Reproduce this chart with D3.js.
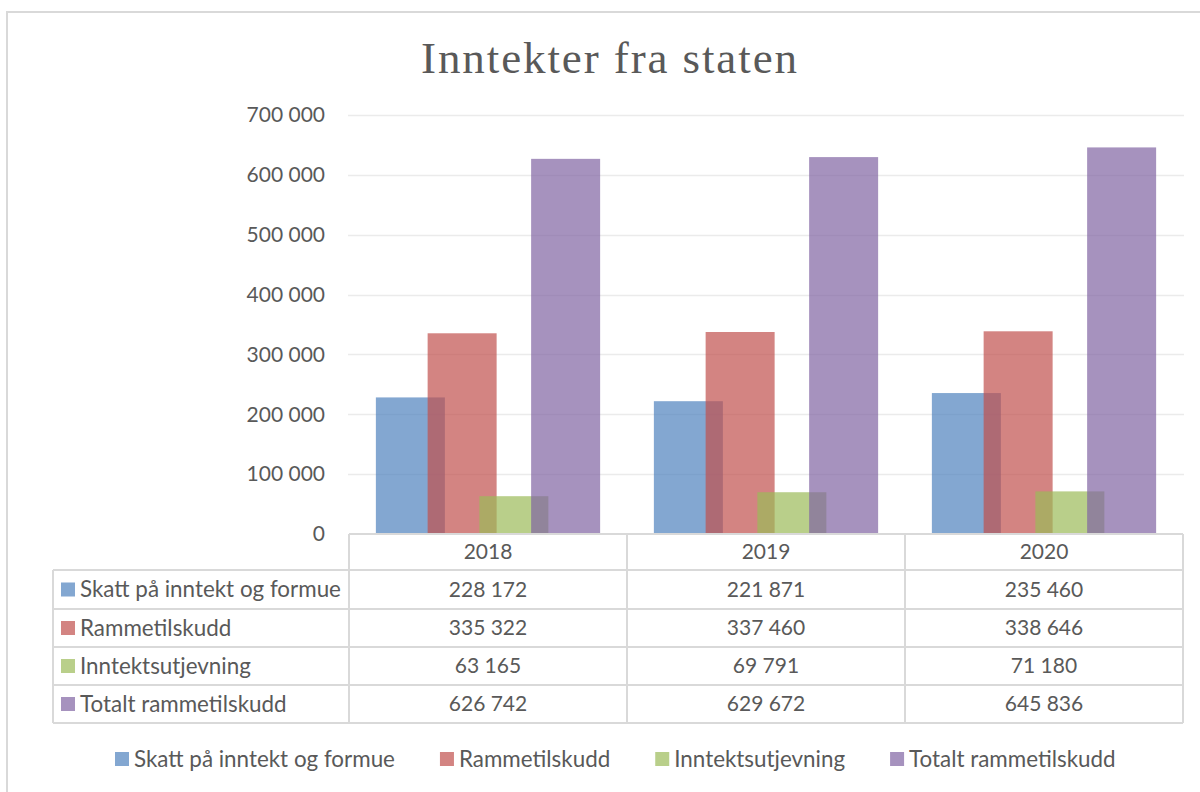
<!DOCTYPE html>
<html>
<head>
<meta charset="utf-8">
<script src="https://cdn.jsdelivr.net/npm/d3@7"></script>
<style>
  html, body { margin: 0; padding: 0; background: #fff; }
  svg { display: block; }
  text { font-family: Lato, "Open Sans", sans-serif; fill: #595959; }
</style>
</head>
<body>
<svg id="chart" width="1200" height="792"></svg>
<script>
const title = "Inntekter fra staten";
const years = ["2018", "2019", "2020"];
const seriesNames = ["Skatt på inntekt og formue", "Rammetilskudd", "Inntektsutjevning", "Totalt rammetilskudd"];
const skatt = [228172, 221871, 235460];
const ramme = [335322, 337460, 338646];
const utjevning = [63165, 69791, 71180];
const totalt = [626742, 629672, 645836];
const yTicks = [0, 100000, 200000, 300000, 400000, 500000, 600000, 700000];
const colors = ["#4F81BD", "#C0504D", "#9BBB59", "#8064A2"];

const seriesValues = [skatt, ramme, utjevning, totalt];
const fmt = v => d3.format(",")(v).replace(/,/g, " ");

const svg = d3.select("#chart");
const plotL = 349, plotR = 1183, plotT = 115, plotB = 534;
const numSize = 21;
const labelSize = 22.4;

// outer border
svg.append("rect").attr("x", 7).attr("y", 12).attr("width", 1220).attr("height", 800)
  .attr("fill", "#fff").attr("stroke", "#d9d9d9").attr("stroke-width", 2);

// title
svg.append("text").attr("x", 610).attr("y", 73).attr("text-anchor", "middle")
  .style("font-family", "'Liberation Serif', 'DejaVu Serif', serif")
  .style("font-size", "45px").style("letter-spacing", "1.9px").text(title);

const x = d3.scaleBand().domain(years).range([plotL, plotR]).paddingInner(0).paddingOuter(0);
const y = d3.scaleLinear().domain([0, 700000]).range([plotB, plotT]);

// gridlines
svg.append("g").selectAll("line").data(yTicks.slice(1)).join("line")
  .attr("x1", plotL - 1).attr("x2", plotR + 1)
  .attr("y1", d => Math.round(y(d)) + 0.5).attr("y2", d => Math.round(y(d)) + 0.5)
  .attr("stroke", "#ebebeb").attr("stroke-width", 1.5);

// y axis labels
const yAxis = d3.axisLeft(y).tickValues(yTicks).tickFormat(fmt).tickSize(0).tickPadding(24);
const gy = svg.append("g").attr("transform", `translate(${plotL},0)`).call(yAxis);
gy.select(".domain").remove();
gy.selectAll("text").style("font-size", numSize + "px").attr("fill", "#595959")
  .style("font-family", "Lato, 'Open Sans', sans-serif");

// bars: bar width, overlap 25%, gap width
const band = x.bandwidth();
const barW = 69;
const step = barW * 0.75;
const groupW = step * 3 + barW;
const off = (band - groupW) / 2;

seriesValues.forEach((vals, si) => {
  svg.append("g").selectAll("rect").data(years).join("rect")
    .attr("x", (d) => x(d) + off + si * step)
    .attr("width", barW)
    .attr("y", (d, i) => y(vals[i]))
    .attr("height", (d, i) => y(0) - y(vals[i]))
    .attr("fill", colors[si]).attr("fill-opacity", 0.7);
});

// data table
const tableLeft = 53;
const rowTop = [534, 570, 609, 647, 685, 723];
const gridColor = "#d9d9d9";
const tg = svg.append("g");
tg.append("line").attr("x1", plotL).attr("x2", plotR).attr("y1", rowTop[0]).attr("y2", rowTop[0]).attr("stroke", gridColor).attr("stroke-width", 2);
for (let r = 1; r < rowTop.length; r++) {
  tg.append("line").attr("x1", tableLeft).attr("x2", plotR).attr("y1", rowTop[r]).attr("y2", rowTop[r]).attr("stroke", gridColor).attr("stroke-width", 2);
}
tg.append("line").attr("x1", tableLeft).attr("x2", tableLeft).attr("y1", rowTop[1]).attr("y2", rowTop[5]).attr("stroke", gridColor).attr("stroke-width", 2);
years.forEach(yr => {
  tg.append("line").attr("x1", x(yr)).attr("x2", x(yr)).attr("y1", rowTop[0]).attr("y2", rowTop[5]).attr("stroke", gridColor).attr("stroke-width", 2);
});
tg.append("line").attr("x1", plotR).attr("x2", plotR).attr("y1", rowTop[0]).attr("y2", rowTop[5]).attr("stroke", gridColor).attr("stroke-width", 2);

tg.selectAll("text.hdr").data(years).join("text").attr("class", "hdr")
  .attr("x", d => x(d) + band / 2).attr("y", (rowTop[0] + rowTop[1]) / 2)
  .attr("dy", "0.35em").attr("text-anchor", "middle").style("font-size", numSize + "px").text(d => d);

seriesNames.forEach((name, si) => {
  const cy = (rowTop[si + 1] + rowTop[si + 2]) / 2;
  tg.append("rect").attr("x", 61).attr("y", cy - 7).attr("width", 14).attr("height", 14)
    .attr("fill", colors[si]).attr("fill-opacity", 0.7);
  tg.append("text").attr("x", 80).attr("y", cy).attr("dy", "0.35em")
    .style("font-size", labelSize + "px").text(name);
  years.forEach((yr, i) => {
    tg.append("text").attr("x", x(yr) + band / 2).attr("y", cy).attr("dy", "0.35em")
      .attr("text-anchor", "middle").style("font-size", numSize + "px").text(fmt(seriesValues[si][i]));
  });
});

// legend
const lg = svg.append("g");
const legY = 759;
let lx = 115;
seriesNames.forEach((name, si) => {
  lg.append("rect").attr("x", lx).attr("y", legY - 7).attr("width", 14).attr("height", 14)
    .attr("fill", colors[si]).attr("fill-opacity", 0.7);
  const t = lg.append("text").attr("x", lx + 19).attr("y", legY).attr("dy", "0.35em")
    .style("font-size", labelSize + "px").text(name);
  const w = t.node().getComputedTextLength();
  lx += 19 + w + 45;
});
</script>
</body>
</html>
